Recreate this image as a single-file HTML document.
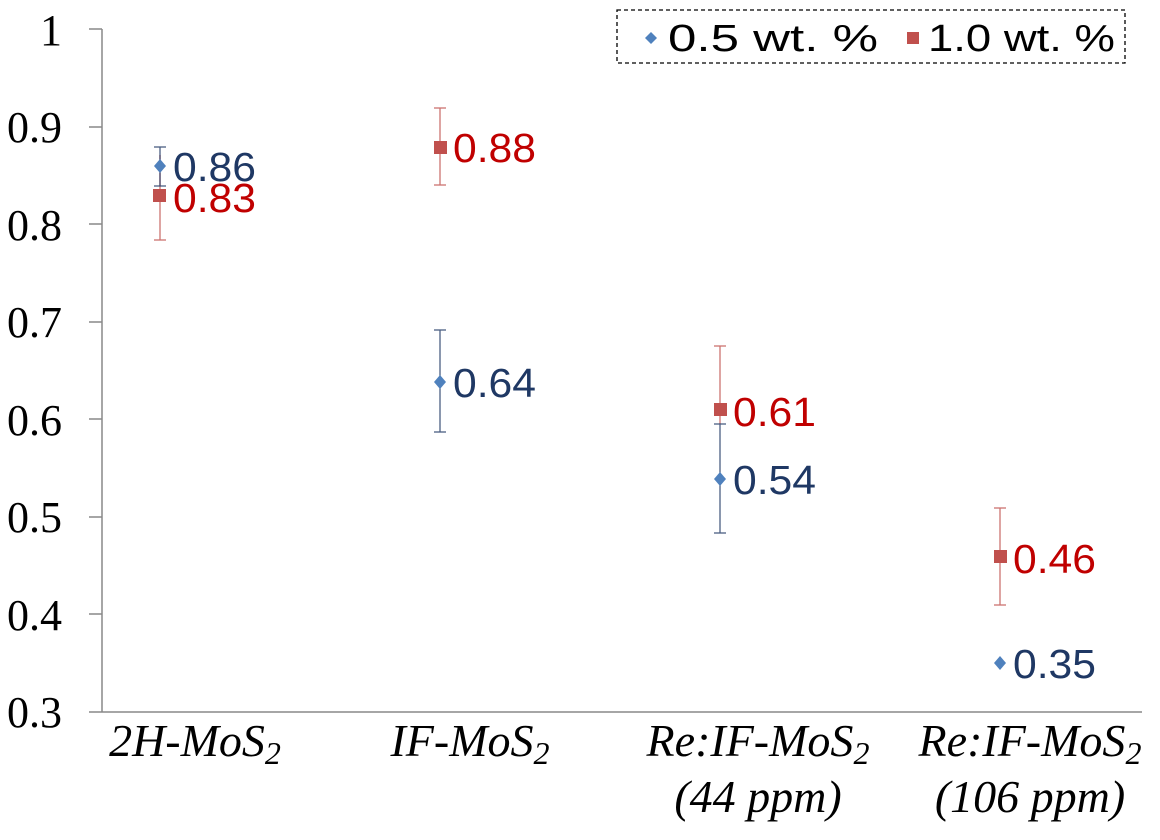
<!DOCTYPE html>
<html><head><meta charset="utf-8"><style>body{margin:0;background:#fff}</style></head><body>
<svg width="1160" height="835" xmlns="http://www.w3.org/2000/svg">
<g stroke="#888" stroke-width="1.5">
<line x1="102" y1="29" x2="102" y2="712"/><line x1="89" y1="712" x2="1142" y2="712"/>
<line x1="89" y1="29" x2="102" y2="29"/><line x1="89" y1="127" x2="102" y2="127"/><line x1="89" y1="224" x2="102" y2="224"/><line x1="89" y1="322" x2="102" y2="322"/><line x1="89" y1="419" x2="102" y2="419"/><line x1="89" y1="517" x2="102" y2="517"/><line x1="89" y1="614" x2="102" y2="614"/>
</g>
<g font-family="Liberation Serif, serif" font-size="44" text-anchor="end" fill="#000">
<text x="62" y="45">1</text><text x="62" y="142">0.9</text><text x="62" y="240">0.8</text><text x="62" y="337">0.7</text><text x="62" y="435">0.6</text><text x="62" y="532">0.5</text><text x="62" y="630">0.4</text><text x="62" y="727">0.3</text>
</g>
<g stroke="#c0504d" stroke-width="1.3" opacity="0.8">
<line x1="160" y1="155" x2="160" y2="240"/><line x1="154" y1="240" x2="166" y2="240"/>
<line x1="440" y1="108" x2="440" y2="185"/><line x1="434" y1="108" x2="446" y2="108"/><line x1="434" y1="185" x2="446" y2="185"/>
<line x1="720" y1="346" x2="720" y2="424"/><line x1="714" y1="346" x2="726" y2="346"/>
<line x1="1000" y1="508" x2="1000" y2="605"/><line x1="994" y1="508" x2="1006" y2="508"/><line x1="994" y1="605" x2="1006" y2="605"/>
</g>
<g stroke="#1f3864" stroke-width="1.3" opacity="0.8">
<line x1="160" y1="147" x2="160" y2="186"/><line x1="154" y1="147" x2="166" y2="147"/><line x1="154" y1="186" x2="166" y2="186"/>
<line x1="440" y1="330" x2="440" y2="432"/><line x1="434" y1="330" x2="446" y2="330"/><line x1="434" y1="432" x2="446" y2="432"/>
<line x1="720" y1="424" x2="720" y2="533"/><line x1="714" y1="424" x2="726" y2="424"/><line x1="714" y1="533" x2="726" y2="533"/>
</g>
<g fill="#c0504d">
<rect x="153" y="189" width="13" height="13"/><rect x="434" y="141" width="13" height="13"/><rect x="714" y="403" width="13" height="13"/><rect x="994" y="550" width="13" height="13"/>
</g>
<g fill="#4f81bd">
<polygon points="160,159 166,166 160,173 154,166"/><polygon points="440,375 446,382 440,389 434,382"/><polygon points="720,472 726,479 720,486 714,479"/><polygon points="1000,656 1006,663 1000,670 994,663"/>
</g>
<g font-family="Liberation Sans, sans-serif" font-size="41">
<text x="173" y="181" fill="#1f3864" textLength="83" lengthAdjust="spacingAndGlyphs">0.86</text><text x="173" y="212" fill="#c00000" textLength="83" lengthAdjust="spacingAndGlyphs">0.83</text>
<text x="453" y="162" fill="#c00000" textLength="83" lengthAdjust="spacingAndGlyphs">0.88</text><text x="453" y="397" fill="#1f3864" textLength="83" lengthAdjust="spacingAndGlyphs">0.64</text>
<text x="733" y="426" fill="#c00000" textLength="83" lengthAdjust="spacingAndGlyphs">0.61</text><text x="733" y="494" fill="#1f3864" textLength="83" lengthAdjust="spacingAndGlyphs">0.54</text>
<text x="1013" y="573" fill="#c00000" textLength="83" lengthAdjust="spacingAndGlyphs">0.46</text><text x="1013" y="678" fill="#1f3864" textLength="83" lengthAdjust="spacingAndGlyphs">0.35</text>
</g>
<g font-family="Liberation Serif, serif" font-size="46" font-style="italic" text-anchor="middle" fill="#000">
<text x="195" y="756">2H-MoS<tspan font-size="32" dy="8">2</tspan></text>
<text x="470" y="756">IF-MoS<tspan font-size="32" dy="8">2</tspan></text>
<text x="758" y="756">Re:IF-MoS<tspan font-size="32" dy="8">2</tspan></text>
<text x="758" y="812">(44 ppm)</text>
<text x="1030" y="756">Re:IF-MoS<tspan font-size="32" dy="8">2</tspan></text>
<text x="1030" y="812">(106 ppm)</text>
</g>
<rect x="617" y="10" width="508" height="53" fill="#fff" stroke="#000" stroke-width="1.3" stroke-dasharray="4,3"/>
<polygon points="651,32 657,38 651,44 645,38" fill="#4f81bd"/>
<rect x="907" y="32" width="12" height="12" fill="#c0504d"/>
<g font-family="Liberation Sans, sans-serif" font-size="38" fill="#000">
<text x="668" y="51" textLength="210" lengthAdjust="spacingAndGlyphs">0.5 wt. %</text><text x="928" y="51" textLength="187" lengthAdjust="spacingAndGlyphs">1.0 wt. %</text>
</g>
</svg>
</body></html>
